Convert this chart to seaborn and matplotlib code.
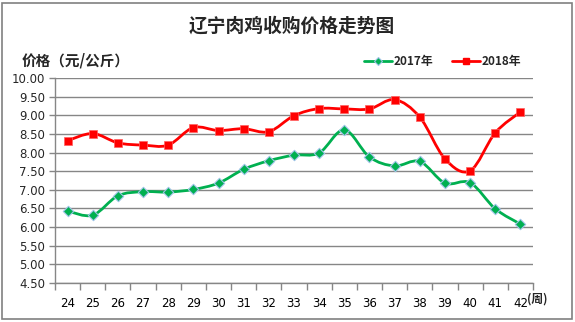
import numpy as np
import pandas as pd
import seaborn as sns
import matplotlib
matplotlib.use("Agg")
import matplotlib.pyplot as plt
from matplotlib.path import Path
from matplotlib.patches import PathPatch, Rectangle
from matplotlib.lines import Line2D

weeks = ["24", "25", "26", "27", "28", "29", "30", "31", "32", "33",
         "34", "35", "36", "37", "38", "39", "40", "41", "42"]
price_2017 = [6.43, 6.32, 6.84, 6.95, 6.94, 7.01, 7.18, 7.55, 7.78, 7.93,
              7.99, 8.61, 7.88, 7.64, 7.76, 7.18, 7.19, 6.49, 6.08]
price_2018 = [8.32, 8.51, 8.26, 8.20, 8.20, 8.67, 8.59, 8.64, 8.56, 8.99,
              9.18, 9.17, 9.17, 9.42, 8.95, 7.83, 7.51, 8.53, 9.09]
yticks = [4.5, 5.0, 5.5, 6.0, 6.5, 7.0, 7.5, 8.0, 8.5, 9.0, 9.5, 10.0]

sns.set_style("white")
plt.rcParams['font.family'] = ['Noto Sans CJK SC', 'DejaVu Sans']

df = pd.DataFrame({
    "pos": list(range(len(weeks))) * 2,
    "price": price_2017 + price_2018,
    "year": ["2017年"] * len(weeks) + ["2018年"] * len(weeks),
})

GREEN = "#00B050"
RED = "#FF0000"
GRID = "#868686"

fig = plt.figure(figsize=(5.75, 3.22), dpi=100)
ax = fig.add_axes([55 / 575, 1 - 283 / 322, (533 - 55) / 575, (283 - 78) / 322])


def smooth_path(xs, ys, t=1 / 6):
    xs = np.asarray(xs, float)
    ys = np.asarray(ys, float)
    n = len(xs)
    verts = [(xs[0], ys[0])]
    codes = [Path.MOVETO]
    for i in range(n - 1):
        p0 = (xs[max(i - 1, 0)], ys[max(i - 1, 0)])
        p1 = (xs[i], ys[i])
        p2 = (xs[i + 1], ys[i + 1])
        p3 = (xs[min(i + 2, n - 1)], ys[min(i + 2, n - 1)])
        c1 = (p1[0] + (p2[0] - p0[0]) * t, p1[1] + (p2[1] - p0[1]) * t)
        c2 = (p2[0] - (p3[0] - p1[0]) * t, p2[1] - (p3[1] - p1[1]) * t)
        verts += [c1, c2, p2]
        codes += [Path.CURVE4] * 3
    return Path(verts, codes)


# grid lines
for y in yticks:
    ax.axhline(y, color=GRID, lw=1.0, zorder=1)

xs = np.arange(len(weeks))
for vals, col in [(price_2017, GREEN), (price_2018, RED)]:
    ax.add_patch(PathPatch(smooth_path(xs, vals), facecolor="none",
                           edgecolor=col, lw=2.0, zorder=3))

sub17 = df[df.year == "2017年"]
sub18 = df[df.year == "2018年"]
sns.scatterplot(data=sub17, x="pos", y="price", ax=ax, marker="D", s=28,
                color=GREEN, edgecolor="#9DC3E6", linewidth=0.8, zorder=4, legend=False)
sns.scatterplot(data=sub18, x="pos", y="price", ax=ax, marker="s", s=30,
                color=RED, edgecolor="#FF6060", linewidth=0.5, zorder=4, legend=False)

ax.set_xlim(-0.5, len(weeks) - 0.5)
ax.set_ylim(4.5, 10.0)
ax.set_xlabel("")
ax.set_ylabel("")

ax.set_yticks(yticks)
ax.set_yticklabels([f"{v:.2f}" for v in yticks], fontsize=8.5,
                   family=['DejaVu Sans'])
ax.set_xticks(xs)
ax.set_xticklabels(weeks, fontsize=8.5, family=['DejaVu Sans'])
ax.set_xticks(np.arange(-0.5, len(weeks)), minor=True)
ax.tick_params(axis="x", which="major", length=0, pad=10, colors="black")
ax.tick_params(axis="x", which="minor", length=5, color=GRID, width=1, direction="out")
ax.tick_params(axis="y", length=4, color=GRID, width=1, direction="out", pad=3)
ax.tick_params(axis="both", which="both", bottom=True, left=True)

for s in ["top", "right"]:
    ax.spines[s].set_visible(False)
for s in ["left", "bottom"]:
    ax.spines[s].set_color(GRID)
    ax.spines[s].set_linewidth(1.0)

# texts
fig.text(292 / 575, 1 - 26 / 322, "辽宁肉鸡收购价格走势图", ha="center", va="center",
         fontsize=13.5, fontweight="bold")
fig.text(22 / 575, 1 - 60 / 322, "价格（元/公斤）", ha="left", va="center",
         fontsize=10.5, fontweight="bold")
fig.text(527 / 575, 1 - 299 / 322, "(周)", ha="left", va="center",
         fontsize=8.5, fontweight="bold")

# legend
handles = [
    Line2D([], [], color=GREEN, lw=2, marker="D", markersize=4.5,
           markeredgecolor="#9DC3E6", markeredgewidth=0.8),
    Line2D([], [], color=RED, lw=2, marker="s", markersize=5),
]
fig.legend(handles, ["2017年", "2018年"], loc="center left",
           bbox_to_anchor=(364 / 575, 1 - 62 / 322), ncol=2, frameon=False,
           prop={"weight": "bold", "size": 8.5}, handlelength=2.4,
           handletextpad=0.1, columnspacing=1.6, borderpad=0, borderaxespad=0)

# outer border
fig.patches.append(Rectangle((1.5 / 575, 3 / 322), 570 / 575, 316 / 322,
                             transform=fig.transFigure, fill=False,
                             edgecolor="#808080", lw=1.2))

fig.savefig("out.png", dpi=100)
